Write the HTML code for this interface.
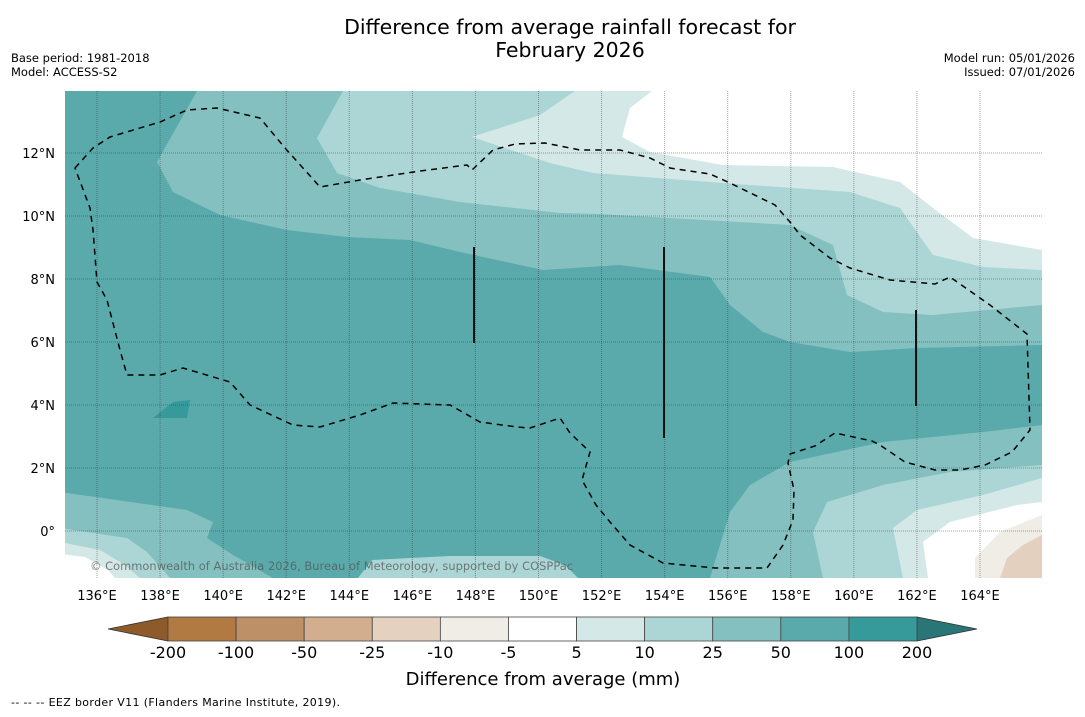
<!DOCTYPE html>
<html><head><meta charset="utf-8"><style>
body{margin:0;background:#fff;width:1085px;height:713px;overflow:hidden;font-family:"DejaVu Sans","Liberation Sans",sans-serif;}
svg text{font-family:"DejaVu Sans","Liberation Sans",sans-serif;}
</style></head><body>
<svg id="chart" width="1085" height="713" xmlns="http://www.w3.org/2000/svg">
<text x="570" y="34" font-size="20.5" text-anchor="middle">Difference from average rainfall forecast for</text>
<text x="570" y="57" font-size="20.5" text-anchor="middle">February 2026</text>
<text x="11" y="62" font-size="11.5">Base period: 1981-2018</text>
<text x="11" y="76" font-size="11.5">Model: ACCESS-S2</text>
<text x="1075" y="62" font-size="11.5" text-anchor="end">Model run: 05/01/2026</text>
<text x="1075" y="76" font-size="11.5" text-anchor="end">Issued: 07/01/2026</text>
<defs><clipPath id="mapclip"><rect x="65" y="91" width="977" height="487"/></clipPath></defs>
<g id="map" clip-path="url(#mapclip)">
<rect x="65" y="91" width="977" height="487" fill="#5aaaac"/>
<path d="M153,418 L173,402 L190,400 L187,418 Z" fill="#36999a"/>
<path d="M60,91 L197,91 L157,162 L173,192 L220,215 L287,230 L347,237 L410,240 L460,252 L543,270 L620,265 L710,277 L730,305 L763,332 L790,342 L850,352 L917,348 L1042,345 L1042,91 Z" fill="#84c0c0"/>
<path d="M343,91 L317,138 L337,173 L380,188 L460,202 L560,213 L600,214 L790,225 L833,245 L847,295 L883,312 L933,315 L1042,305 L1042,91 Z" fill="#acd6d6"/>
<path d="M472,137 L540,115 L575,91 L1042,91 L1042,270 L983,267 L933,255 L900,208 L850,192 L723,183 L593,173 L550,163 Z" fill="#d5e8e8"/>
<path d="M652,91 L630,108 L622,137 L650,152 L723,165 L833,167 L900,182 L933,208 L973,238 L1042,250 L1042,91 Z" fill="#ffffff"/>
<path d="M60,492 L187,510 L213,522 L207,538 L233,555 L273,578 L60,578 Z" fill="#84c0c0"/>
<path d="M60,528 L127,538 L147,552 L170,578 L60,578 Z" fill="#acd6d6"/>
<path d="M60,542 L100,550 L125,565 L140,578 L60,578 Z" fill="#d5e8e8"/>
<path d="M60,554 L85,557 L108,570 L115,578 L60,578 Z" fill="#ffffff"/>
<path d="M358,578 L372,560 L450,556 L540,556 L565,565 L578,578 Z" fill="#acd6d6"/>
<path d="M710,578 L730,512 L750,485 L790,462 L883,442 L983,432 L1042,425 L1042,578 Z" fill="#84c0c0"/>
<path d="M823,578 L813,532 L827,502 L883,485 L950,472 L1042,465 L1042,578 Z" fill="#acd6d6"/>
<path d="M903,578 L893,528 L917,510 L983,495 L1042,478 L1042,578 Z" fill="#d5e8e8"/>
<path d="M928,578 L923,542 L950,522 L1017,505 L1042,502 L1042,578 Z" fill="#ffffff"/>
<path d="M975,578 L975,558 L1000,532 L1042,515 L1042,578 Z" fill="#f0ece6"/>
<path d="M1000,578 L1007,558 L1023,545 L1042,535 L1042,578 Z" fill="#e4d0be"/>
<g id="grid"></g>
<path d="M75,168 L93,148 L110,137 L160,122 L187,110 L217,108 L260,118 L285,148 L320,187 L360,180 L420,171 L467,165 L472,170 L493,150 L515,144 L545,143 L580,150 L620,150 L650,158 L670,168 L710,174 L730,183 L775,205 L790,222 L800,235 L830,258 L850,268 L890,280 L935,284 L950,277 L990,305 L1027,334 L1030,430 L1012,452 L985,465 L960,470 L935,470 L905,462 L880,445 L872,441 L835,433 L815,446 L790,454 L788,463 L794,490 L793,520 L783,545 L767,568 L715,568 L663,563 L630,545 L610,522 L596,505 L582,480 L590,452 L570,433 L560,418 L530,428 L517,427 L480,422 L450,405 L393,403 L360,415 L320,427 L293,425 L250,405 L230,382 L183,368 L160,375 L127,375 L120,350 L107,300 L97,282 L93,230 L90,208 L75,168 Z" fill="none" stroke="#000" stroke-width="1.5" stroke-dasharray="6,5"/>
<line x1="474" y1="247" x2="474" y2="343" stroke="#111" stroke-width="2"/>
<line x1="664" y1="247" x2="664" y2="438" stroke="#111" stroke-width="2"/>
<line x1="916" y1="310" x2="916" y2="406" stroke="#111" stroke-width="2"/>
<text x="90" y="570" font-size="11.4" fill="#555" fill-opacity="0.75" textLength="483">© Commonwealth of Australia 2026, Bureau of Meteorology, supported by COSPPac</text>
</g>
<g id="axes"></g>
<g id="colorbar"></g>
<text x="543" y="685" font-size="18" text-anchor="middle">Difference from average (mm)</text>
<text x="11" y="706" font-size="11" textLength="329">--  --  -- EEZ border V11 (Flanders Marine Institute, 2019).</text>
</svg>
<script>
const lonTicks=[136,138,140,142,144,146,148,150,152,154,156,158,160,162,164];
const latTicks=[0,2,4,6,8,10,12];
const cbLevels=["-200","-100","-50","-25","-10","-5","5","10","25","50","100","200"];
const cbColors=["#b07a42","#be9068","#d2ae8e","#e4d1c0","#f0ece6","#ffffff","#d5e8e8","#acd6d6","#84c0c0","#5aaaac","#36999a"];
const cbUnder="#8e5a2a", cbOver="#2a7676";
const NS="http://www.w3.org/2000/svg";
function xLon(l){return 97+(l-136)*(980-97)/28;}
function yLat(l){return 531-l*(531-153)/12;}
function mk(t,a,p){const e=document.createElementNS(NS,t);for(const k in a)e.setAttribute(k,a[k]);p.appendChild(e);return e;}
const grid=document.getElementById('grid'),axes=document.getElementById('axes');
lonTicks.forEach(l=>{const x=xLon(l);
 const g=mk('line',{x1:x,y1:91,x2:x,y2:578,stroke:'#333','stroke-opacity':0.45,'stroke-dasharray':'1,1','stroke-width':1},grid);
 
 
 const t=mk('text',{x:x,y:600,'font-size':13,'text-anchor':'middle'},axes);t.textContent=l+'°E';
 
 });
latTicks.forEach(l=>{const y=yLat(l);
 const g=mk('line',{x1:65,y1:y,x2:1042,y2:y,stroke:'#333','stroke-opacity':0.45,'stroke-dasharray':'1,1','stroke-width':1},grid);
 
 
 const t=mk('text',{x:55,y:y+5,'font-size':13,'text-anchor':'end'},axes);t.textContent=l===0?'0°':l+'°N';
 
 });
const cb=document.getElementById('colorbar');
const x0=168,x1=917,y0=617,y1=641,w=(x1-x0)/cbColors.length;
const u=mk('polygon',{points:`108,629 ${x0},${y0} ${x0},${y1}`,fill:cbUnder,stroke:'#333','stroke-width':0.8},cb);


const o=mk('polygon',{points:`977,629 ${x1},${y0} ${x1},${y1}`,fill:cbOver,stroke:'#333','stroke-width':0.8},cb);


cbColors.forEach((c,i)=>{const r=mk('rect',{x:x0+i*w,y:y0,width:w,height:y1-y0,fill:c,stroke:'#444','stroke-width':0.8},cb);
 
 });
cbLevels.forEach((v,i)=>{const t=mk('text',{x:x0+i*w,y:658,'font-size':16,'text-anchor':'middle'},cb);t.textContent=v;
 
 });
</script>
</body></html>
